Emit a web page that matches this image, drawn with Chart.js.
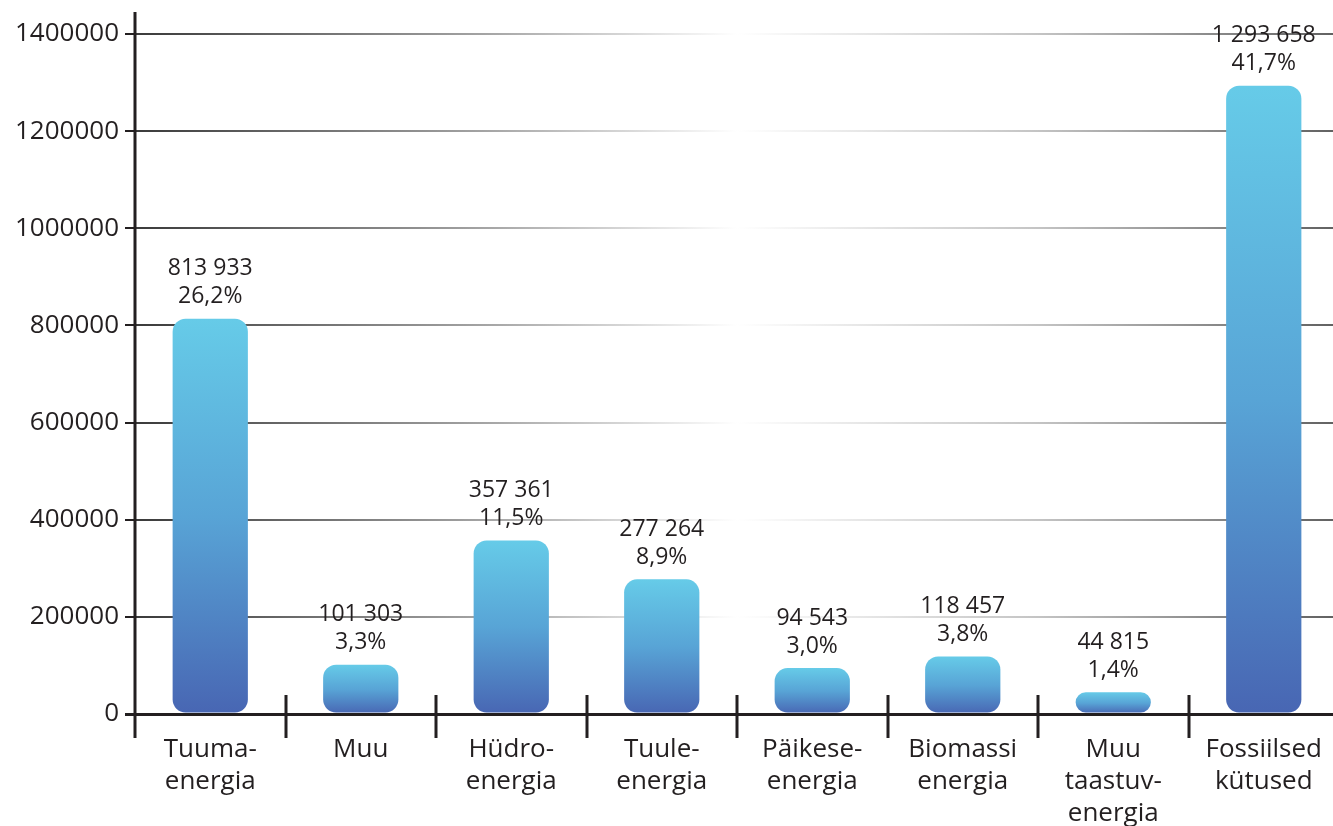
<!DOCTYPE html>
<html>
<head>
<meta charset="utf-8">
<script src="https://cdn.jsdelivr.net/npm/chart.js@4"></script>
<style>
    html, body { margin: 0; padding: 0; background: #fff; overflow: hidden; }
    #wrap { width: 1339px; height: 826px; }
</style>
</head>
<body>
<div id="wrap"><canvas id="myChart"></canvas></div>
<script>
const categories = [
    ['Tuuma-', 'energia'],
    ['Muu'],
    ['Hüdro-', 'energia'],
    ['Tuule-', 'energia'],
    ['Päikese-', 'energia'],
    ['Biomassi', 'energia'],
    ['Muu', 'taastuv-', 'energia'],
    ['Fossiilsed', 'kütused']
];
const production = [813933, 101303, 357361, 277264, 94543, 118457, 44815, 1293658];
const shareLabels = ['26,2%', '3,3%', '11,5%', '8,9%', '3,0%', '3,8%', '1,4%', '41,7%'];
const yTicks = [0, 200000, 400000, 600000, 800000, 1000000, 1200000, 1400000];

const fontFamily = "'Open Sans', 'DejaVu Sans', sans-serif";
const textColor = '#231f20';

function formatNumber(n) {
    return String(n).replace(/\B(?=(\d{3})+(?!\d))/g, ' ');
}

// vertical gradient per bar: light cyan on top, blue at the base
function barGradient(context) {
    const chart = context.chart;
    const yScale = chart.scales.y;
    if (!yScale || context.dataIndex === undefined) return '#5aa5d6';
    const top = yScale.getPixelForValue(production[context.dataIndex]);
    const bottom = yScale.getPixelForValue(0);
    if (!isFinite(top) || !isFinite(bottom) || top === bottom) return '#5aa5d6';
    const g = chart.ctx.createLinearGradient(0, top, 0, bottom);
    g.addColorStop(0, '#66cbe8');
    g.addColorStop(0.5, '#58a4d6');
    g.addColorStop(1, '#4866b3');
    return g;
}

// grey grid lines that fade out towards the middle
function gridColor(context) {
    const chart = context.chart;
    if (context.tick && context.tick.value === 0) return textColor;
    const area = chart.chartArea;
    if (!area || !isFinite(area.left) || !isFinite(area.right) || area.right <= area.left) return '#999';
    const g = chart.ctx.createLinearGradient(area.left, 0, area.right, 0);
    g.addColorStop(0, '#3a3a3a');
    g.addColorStop(0.3, '#a8a8a8');
    g.addColorStop(0.5, '#ffffff');
    g.addColorStop(0.75, '#c4c4c4');
    g.addColorStop(1, '#606060');
    return g;
}

// value and percentage above each bar
const valueLabels = {
    id: 'valueLabels',
    afterDatasetsDraw(chart) {
        const ctx = chart.ctx;
        const meta = chart.getDatasetMeta(0);
        ctx.save();
        ctx.fillStyle = textColor;
        ctx.font = '23px ' + fontFamily;
        ctx.textAlign = 'center';
        ctx.textBaseline = 'middle';
        meta.data.forEach((bar, i) => {
            ctx.fillText(formatNumber(production[i]), bar.x, bar.y - 50);
            ctx.fillText(shareLabels[i], bar.x, bar.y - 22);
        });
        ctx.restore();
    }
};

// long y axis line and category separators crossing the base line
const axisMarks = {
    id: 'axisMarks',
    afterDraw(chart) {
        const ctx = chart.ctx;
        const x = chart.scales.x;
        const y = chart.scales.y;
        const base = y.getPixelForValue(0);
        const step = x.getPixelForValue(1) - x.getPixelForValue(0);
        ctx.save();
        ctx.strokeStyle = textColor;
        ctx.lineWidth = 3;
        ctx.beginPath();
        ctx.moveTo(chart.chartArea.left, 12);
        ctx.lineTo(chart.chartArea.left, base + 24);
        for (let i = 1; i < categories.length; i++) {
            const px = Math.round(x.getPixelForValue(i) - step / 2);
            ctx.moveTo(px, base - 19);
            ctx.lineTo(px, base + 24);
        }
        ctx.stroke();
        ctx.restore();
    }
};

const ctx = document.getElementById('myChart').getContext('2d');
const myChart = new Chart(ctx, {
    type: 'bar',
    data: {
        labels: categories,
        datasets: [{
            data: production,
            backgroundColor: barGradient,
            borderWidth: 0,
            borderRadius: 13,
            borderSkipped: false,
            barPercentage: 0.5,
            categoryPercentage: 1
        }]
    },
    options: {
        responsive: true,
        maintainAspectRatio: false,
        animation: false,
        layout: { padding: { top: 34, right: 0, left: 0, bottom: 0 } },
        plugins: {
            legend: { display: false },
            tooltip: { enabled: false }
        },
        scales: {
            x: {
                grid: { display: false },
                border: { display: false },
                ticks: {
                    color: textColor,
                    font: { family: fontFamily, size: 26, lineHeight: 1.23 },
                    padding: 12,
                    maxRotation: 0,
                    autoSkip: false
                },
                afterFit(scale) { scale.height = 112; }
            },
            y: {
                min: 0,
                max: 1400000,
                afterBuildTicks(scale) {
                    scale.ticks = yTicks.map(v => ({ value: v }));
                },
                grid: {
                    color: gridColor,
                    lineWidth: c => (c.tick && c.tick.value === 0 ? 3 : 2),
                    drawTicks: true,
                    tickLength: 10,
                    tickColor: textColor
                },
                border: { display: false },
                ticks: {
                    color: textColor,
                    font: { family: fontFamily, size: 26 },
                    padding: 6,
                    callback: v => String(v)
                },
                afterFit(scale) { scale.width = 135; }
            }
        }
    },
    plugins: [valueLabels, axisMarks]
});
</script>
</body>
</html>
